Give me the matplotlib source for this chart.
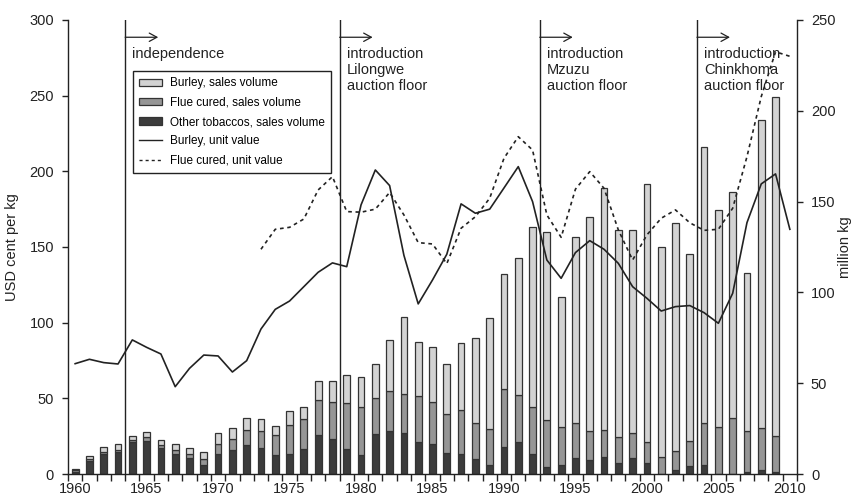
import numpy as np
import matplotlib
matplotlib.use("Agg")
import matplotlib.pyplot as plt
from matplotlib.patches import Patch
from matplotlib.lines import Line2D

plt.rcParams['font.family'] = ['Liberation Sans', 'DejaVu Sans']

# Sales volumes (million kg), 1960-2009
years = list(range(1960, 2010))
other_vol = [1.0, 7.2, 11.0, 12.3, 17.8, 18.3, 14.1, 11.2, 8.6, 5.0,
             11.0, 13.2, 15.8, 14.3, 10.3, 11.0, 13.6, 21.3, 19.5, 13.6,
             10.3, 21.8, 23.7, 22.4, 17.4, 16.3, 11.7, 11.0, 8.1, 5.0,
             14.7, 17.4, 11.0, 4.0, 5.0, 8.6, 7.7, 9.2, 6.2, 8.6,
             6.2, 0.0, 2.2, 4.4, 5.0, 0.0, 0.0, 1.3, 2.2, 1.3]
flue_vol = [1.0, 1.1, 1.1, 1.1, 1.1, 1.9, 1.7, 2.2, 2.2, 3.1,
            5.3, 6.1, 8.5, 9.6, 11.0, 15.8, 16.5, 19.4, 20.3, 25.7,
            26.4, 19.9, 21.8, 21.8, 25.5, 23.2, 21.2, 24.2, 20.2, 19.6,
            31.9, 25.9, 25.7, 25.7, 20.7, 19.7, 15.8, 15.0, 14.4, 14.0,
            11.6, 9.2, 10.5, 14.0, 23.3, 25.7, 30.6, 22.6, 22.9, 19.6]
burley_vol = [0.9, 1.8, 2.9, 3.1, 2.2, 2.7, 2.9, 3.1, 3.7, 4.2,
              6.1, 6.2, 6.3, 6.2, 5.3, 8.1, 6.6, 10.7, 11.6, 15.2,
              16.9, 18.7, 28.1, 42.2, 29.9, 30.4, 27.4, 37.1, 46.4, 61.1,
              63.5, 75.8, 99.1, 103.5, 71.9, 102.0, 118.2, 133.4, 113.7, 111.7,
              141.8, 115.9, 125.3, 102.5, 151.9, 119.6, 124.5, 86.6, 169.8, 186.5]

# Unit values (USD cent per kg)
burley_years = list(range(1960, 2011))
burley_price = [72.9, 75.8, 73.6, 72.7, 88.6, 83.7, 79.3, 57.7, 69.8, 78.6,
                78.0, 67.4, 74.9, 95.8, 108.8, 114.3, 123.8, 133.3, 139.5, 137.0,
                177.8, 200.9, 190.6, 144.5, 112.4, 128.2, 145.2, 178.5, 172.3, 175.0,
                189.0, 203.1, 180.0, 141.4, 129.3, 146.3, 154.2, 148.5, 139.2, 123.8,
                116.1, 107.7, 110.6, 111.3, 106.6, 99.6, 119.4, 166.1, 191.7, 198.3,
                161.7]
flue_years = list(range(1973, 2011))
flue_price = [148.5, 161.7, 163.0, 168.5, 187.7, 196.5, 173.4, 173.0, 175.0, 186.0,
              171.2, 152.9, 152.0, 139.0, 162.4, 170.0, 182.2, 208.6, 222.9, 214.1,
              171.2, 156.4, 188.2, 199.8, 188.8, 161.3, 141.4, 158.0, 169.0, 174.5,
              166.0, 161.0, 161.7, 175.6, 209.7, 249.4, 279.0, 276.0]

# Institutional events
event_years = [1963.5, 1978.5, 1992.5, 2003.5]
event_labels = ["independence",
                "introduction\nLilongwe\nauction floor",
                "introduction\nMzuzu\nauction floor",
                "introduction\nChinkhoma\nauction floor"]

ink = '#222222'
c_burley = '#d3d3d3'
c_flue = '#969696'
c_other = '#3c3c3c'
edge = '#333333'

fig = plt.figure(figsize=(8.55, 5.0), dpi=100)
ax = fig.add_axes([68 / 855, 26 / 500, 729 / 855, 454 / 500])
ax2 = ax.twinx()

# volumes on the right-hand axis
ax.yaxis.tick_right()
ax.yaxis.set_label_position('right')
ax2.yaxis.tick_left()
ax2.yaxis.set_label_position('left')

other = np.array(other_vol)
flue = np.array(flue_vol)
burley = np.array(burley_vol)
w = 0.47
bkw = dict(width=w, edgecolor=edge, linewidth=0.9)
ax.bar(years, other, color=c_other, **bkw)
ax.bar(years, flue, bottom=other, color=c_flue, **bkw)
ax.bar(years, burley, bottom=other + flue, color=c_burley, **bkw)

ax.set_ylim(0, 250)
ax.set_yticks(range(0, 251, 50))
ax.set_xlim(1959.5, 2010.5)

# prices on the left-hand axis
ax2.plot(burley_years, burley_price, color=ink, lw=1.2)
ax2.plot(flue_years, flue_price, color=ink, lw=1.2, linestyle=(0, (2.2, 2.2)))
ax2.set_ylim(0, 300)
ax2.set_yticks(range(0, 301, 50))

for x, lab in zip(event_years, event_labels):
    ax2.axvline(x, color=ink, lw=1.0)
    ax2.annotate('', xy=(x + 2.31, 288.6), xytext=(x, 288.6),
                 arrowprops=dict(arrowstyle='->,head_length=0.55,head_width=0.3',
                                 color=ink, lw=0.9, shrinkA=0, shrinkB=0))
    ax2.text(x + 0.5, 282.4, lab, fontsize=10.5, color=ink, va='top', ha='left',
             linespacing=1.2)

# axes styling
for a in (ax, ax2):
    for s in a.spines.values():
        s.set_visible(False)
        s.set_color(ink)
        s.set_linewidth(1.0)
ax.spines['bottom'].set_visible(True)
ax.spines['right'].set_visible(True)
ax2.spines['left'].set_visible(True)

ax.set_xticks(range(1960, 2011, 5))
ax.set_xticks(np.arange(1959.5, 2011, 1.0), minor=True)
ax.tick_params(axis='x', which='major', length=0, pad=6, labelsize=10.5, colors=ink)
ax.tick_params(axis='x', which='minor', length=5, width=1.0, color=ink, direction='out')
ax.tick_params(axis='y', length=4, width=1.0, pad=6, labelsize=10.5, colors=ink)
ax2.tick_params(axis='y', length=4, width=1.0, pad=6, labelsize=10.5, colors=ink)

ax2.set_ylabel('USD cent per kg', fontsize=10.5, color=ink)
ax.set_ylabel('million kg', fontsize=10.5, color=ink)
ax2.yaxis.set_label_coords(-0.067, 0.5)
ax.yaxis.set_label_coords(1.056, 0.5)

handles = [Patch(facecolor=c_burley, edgecolor=edge, linewidth=0.9),
           Patch(facecolor=c_flue, edgecolor=edge, linewidth=0.9),
           Patch(facecolor=c_other, edgecolor=edge, linewidth=0.9),
           Line2D([], [], color=ink, lw=1.0),
           Line2D([], [], color=ink, lw=1.0, linestyle=(0, (2.2, 2.2)))]
labels = ['Burley, sales volume', 'Flue cured, sales volume',
          'Other tobaccos, sales volume', 'Burley, unit value',
          'Flue cured, unit value']
leg = ax2.legend(handles, labels, loc='upper left',
                 bbox_to_anchor=(0.0888, 0.8877), borderaxespad=0,
                 fontsize=8.5, frameon=True, fancybox=False, framealpha=1,
                 edgecolor=ink, handlelength=1.9, handleheight=0.6,
                 handletextpad=0.7, labelspacing=0.62, borderpad=0.55)
leg.get_frame().set_linewidth(1.0)

fig.savefig('out.png', dpi=100)
